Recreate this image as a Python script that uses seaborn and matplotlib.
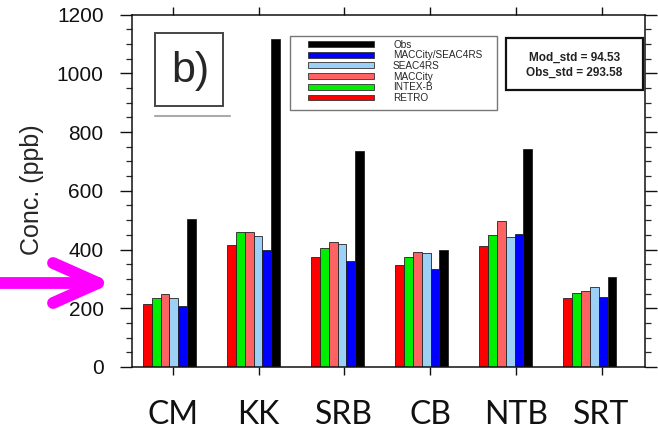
import matplotlib
matplotlib.use('Agg')
import matplotlib.pyplot as plt
import seaborn as sns
import pandas as pd
from matplotlib.patches import Rectangle, Patch
from matplotlib.lines import Line2D
from matplotlib.ticker import MultipleLocator

# ---------------- data ----------------
sites = ['CM', 'KK', 'SRB', 'CB', 'NTB', 'SRT']
retro = [215, 417, 375, 347, 411, 235]
intexb = [236, 459, 406, 375, 451, 253]
maccity = [248, 459, 425, 391, 498, 260]
seac4rs = [235, 445, 420, 389, 444, 272]
macc_seac = [208, 397, 362, 333, 454, 240]
obs = [503, 1117, 736, 397, 743, 306]
series = ['RETRO', 'INTEX-B', 'MACCity', 'SEAC4RS', 'MACCity/SEAC4RS', 'Obs']
colors = ['#ff0000', '#00ee00', '#ff6262', '#9dd0f7', '#0000ff', '#000000']
mod_std = 94.53
obs_std = 293.58
yticks = [0, 200, 400, 600, 800, 1000, 1200]

values = [retro, intexb, maccity, seac4rs, macc_seac, obs]
rows = []
for name, vals in zip(series, values):
    for s, v in zip(sites, vals):
        rows.append({'site': s, 'series': name, 'value': v})
df = pd.DataFrame(rows)

sns.set_style('ticks')
plt.rcParams['font.family'] = ['Liberation Sans', 'DejaVu Sans']

W, H = 658, 429
fig = plt.figure(figsize=(W / 100, H / 100), dpi=100)
ax = fig.add_axes([132 / W, 1 - 367 / H, 513 / W, 352.5 / H])

sns.barplot(data=df, x='site', y='value', hue='series', order=sites,
            hue_order=series, palette=colors, saturation=1, width=0.634,
            edgecolor='#222222', linewidth=0.6, legend=False, ax=ax)

ax.set_xlim(-0.446, 5.657)
ax.set_ylim(0, 1200)
ax.set_yticks(yticks)
ax.set_yticklabels([str(v) for v in yticks], fontsize=15)
ax.yaxis.set_minor_locator(MultipleLocator(50))
tick_pos = [0.04 + 1.02 * i for i in range(len(sites))]
ax.set_xticks(tick_pos)
ax.set_xticklabels(sites, fontsize=23, family=['Lato', 'DejaVu Sans'])
ax.set_xlabel('')
ax.set_ylabel('')

for sp in ax.spines.values():
    sp.set_visible(True)
    sp.set_color('#111111')
    sp.set_linewidth(1.1)

ax.tick_params(axis='y', which='major', direction='out', length=8.5, width=1,
               left=True, right=True, pad=12, colors='#111111')
ax.tick_params(axis='y', which='minor', direction='out', length=4.3, width=0.9,
               left=True, right=True)
ax.tick_params(axis='x', which='major', direction='out', length=6, width=1,
               bottom=True, top=True, pad=18, colors='#111111')
ax.tick_params(axis='x', which='minor', bottom=False, top=False)

# y label (partially cut at the left edge like the reference)
fig.text(32 / W, 1 - 190 / H, 'Conc. (ppb)', rotation=90, ha='center',
         va='center', fontsize=18)

# legend
handles = [Patch(facecolor=c, edgecolor='#333333', linewidth=0.6)
           for c in colors[::-1]]
leg = ax.legend(handles, series[::-1], loc='upper left',
                bbox_to_anchor=(308 / W, 1 - 39.5 / H),
                bbox_transform=fig.transFigure, frameon=False, fontsize=7.2,
                handlelength=6.6, handleheight=0.5, handletextpad=1.9,
                labelspacing=0.07, borderpad=0, borderaxespad=0)
fig.add_artist(Rectangle((290 / W, 1 - 110 / H), 207 / W, 74 / H,
                         transform=fig.transFigure, fill=False,
                         edgecolor='#777777', linewidth=1))

# stats box
fig.add_artist(Rectangle((506 / W, 1 - 90 / H), 137 / W, 52 / H,
                         transform=fig.transFigure, fill=False,
                         edgecolor='#111111', linewidth=1.6))
fig.text(574.5 / W, 1 - 65.5 / H,
         f'Mod_std = {mod_std:.2f}\nObs_std = {obs_std:.2f}',
         ha='center', va='center', fontsize=8.5, fontweight='bold',
         linespacing=1.3, color='#222222')

# panel label
fig.add_artist(Rectangle((155 / W, 1 - 106 / H), 68 / W, 73 / H,
                         transform=fig.transFigure, fill=False,
                         edgecolor='#444444', linewidth=1.4))
fig.text(190 / W, 1 - 82 / H, 'b)', ha='center', va='baseline', fontsize=31)
fig.add_artist(Line2D([155 / W, 230 / W], [1 - 116 / H, 1 - 116 / H],
                      transform=fig.transFigure, color='#aaaaaa', lw=1.5))

# magenta arrow
mag = '#ff00ff'
for xs, ys in [([0, 97], [283, 283]), ([53, 98], [263, 283]),
               ([53, 98], [303, 283])]:
    fig.add_artist(Line2D([x / W for x in xs], [1 - y / H for y in ys],
                          transform=fig.transFigure, color=mag, lw=8.5,
                          solid_capstyle='round'))

fig.savefig('out.png', dpi=100)
